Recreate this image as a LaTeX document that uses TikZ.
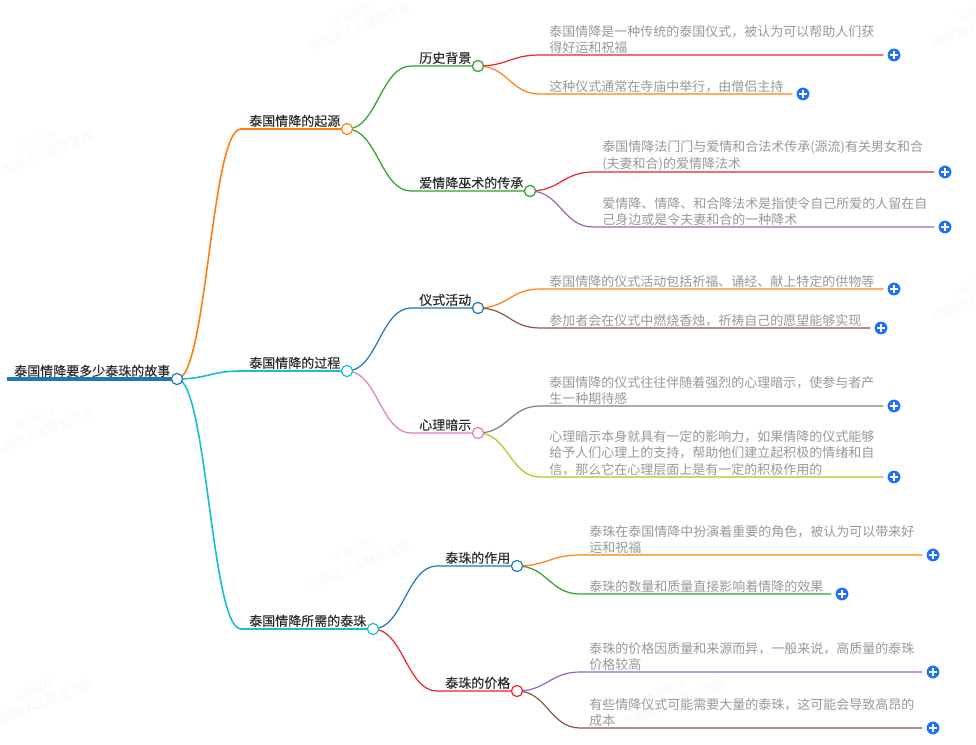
\documentclass[tikz,border=0pt]{standalone}
\usepackage{fontspec}
\setmainfont{Noto Sans CJK SC}
\newfontfamily\topicfont[FakeBold=0.25]{Noto Sans CJK SC}
\usetikzlibrary{backgrounds}
\definecolor{cOrange}{HTML}{FF7F0E}
\definecolor{cGreen}{HTML}{2CA02C}
\definecolor{cRed}{HTML}{E8262A}
\definecolor{cPurple}{HTML}{9467BD}
\definecolor{cBlue}{HTML}{1F77B4}
\definecolor{cCyan}{HTML}{17BECF}
\definecolor{cPink}{HTML}{E377C2}
\definecolor{cBrown}{HTML}{8C564B}
\definecolor{cGrey}{HTML}{7F7F7F}
\definecolor{cOlive}{HTML}{BCBD22}
\definecolor{cPlus}{HTML}{1F6FFF}
\definecolor{cLeaf}{HTML}{999999}
\definecolor{cTopic}{HTML}{2B2B2B}
\definecolor{cMark}{HTML}{F8F8F8}
\def\edgewidth{0.9pt}
\tikzset{
  x=0.75pt,y=-0.75pt,
  dot/.style={circle,draw=#1,fill=white,line width=0.9pt,minimum size=8.4pt,inner sep=0pt},
  edgeline/.style={draw=#1,line width=\edgewidth,line cap=round},
  plusnode/.style={circle,fill=cPlus,minimum size=9.6pt,inner sep=0pt,
    path picture={\draw[white,line width=1pt]
      ([xshift=-2.8pt]path picture bounding box.center) -- ([xshift=2.8pt]path picture bounding box.center)
      ([yshift=-2.8pt]path picture bounding box.center) -- ([yshift=2.8pt]path picture bounding box.center);}},
  leaftext/.style={anchor=south west,inner sep=0pt,align=left,text=cLeaf,font=\fontsize{9.75}{12.4}\selectfont},
  topictext/.style={anchor=base west,inner sep=0pt,text=cTopic,font=\fontsize{9.75}{12}\topicfont},
  marktext/.style={text=cMark,rotate=22,align=center,inner sep=0pt,font=\fontsize{9}{12}\selectfont},
}
% topic: name, x of text, x of circle, y, colour, parent, curve end x, text
\newcommand{\topicnode}[8]{%
  \node[dot=#5] (#1) at (#3,#4) {};
  \node[topictext] (#1t) at (#2,#4-3.2) {#8};
  \coordinate (#1s) at (#7,#4);
  \begin{pgfonlayer}{background}
  \draw[edgeline=#5] (#6.center) .. controls ++(30,0) and ([xshift=-22.5pt]#1s) .. (#1s) -- (#1.center);
  \end{pgfonlayer}}
% leaf: name, parent, plus x, y, colour, text x, curve end x, text
\newcommand{\leafedge}[7]{%
  \node[plusnode] (#1) at (#3,#4) {};
  \coordinate (#1s) at (#6,#4);
  \coordinate (#1e) at (#3-11,#4);
  \begin{pgfonlayer}{background}
  \draw[edgeline=#5] (#2.center) .. controls ++(22.5pt,0) and ([xshift=-22.5pt]#1s) .. (#1s) -- (#1e);
  \end{pgfonlayer}
  \node[leaftext] (#1t) at (#6+9,#4-1) {#7};}
\begin{document}
\begin{tikzpicture}
\useasboundingbox (0,0) rectangle (976,745);
\begin{pgfonlayer}{background}
\fill[white] (0,0) rectangle (976,745);
\node[marktext] (w1) at (357,20) {e3607e\\内容由人工智能生成};
\node[marktext] (w2) at (981,16) {e3607e\\内容由人工智能生成};
\node[marktext] (w3) at (40,148) {e3607e\\内容由人工智能生成};
\node[marktext] (w4) at (40,425) {e3607e\\内容由人工智能生成};
\node[marktext] (w5) at (357,558) {e3607e\\内容由人工智能生成};
\node[marktext] (w6) at (39,696) {e3607e\\内容由人工智能生成};
\node[marktext] (w7) at (670,697) {e3607e\\内容由人工智能生成};
\node[marktext] (w8) at (981,290) {e3607e\\内容由人工智能生成};
\node[marktext] (w9) at (670,152) {e3607e\\内容由人工智能生成};
\end{pgfonlayer}
% root
\node[dot=cBlue] (root) at (177,379) {};
\coordinate (rootl) at (7,379);
\node[topictext] (roott) at (14,375.8) {泰国情降要多少泰珠的故事};
\begin{pgfonlayer}{background}
\draw[cBlue,line width=2.5pt] (rootl) -- (root.center);
\end{pgfonlayer}
% level 1
\def\edgewidth{1.2pt}
\topicnode{A}{249}{347}{129}{cOrange}{root}{241}{泰国情降的起源}
\topicnode{B}{249}{347}{371}{cCyan}{root}{241}{泰国情降的过程}
\topicnode{C}{249}{373}{629}{cCyan}{root}{241}{泰国情降所需的泰珠}
% level 2
\def\edgewidth{0.9pt}
\topicnode{Aa}{419}{478}{66}{cGreen}{A}{411}{历史背景}
\topicnode{Ab}{419}{530}{191}{cGreen}{A}{411}{爱情降巫术的传承}
\topicnode{Ba}{419}{478}{308}{cBlue}{B}{411}{仪式活动}
\topicnode{Bb}{419}{478}{433}{cPink}{B}{411}{心理暗示}
\topicnode{Ca}{445}{517}{566}{cBlue}{C}{437}{泰珠的作用}
\topicnode{Cb}{445}{517}{691}{cRed}{C}{437}{泰珠的价格}
% leaves
\leafedge{L1}{Aa}{894}{55}{cRed}{540}{泰国情降是一种传统的泰国仪式，被认为可以帮助人们获\\得好运和祝福}
\leafedge{L2}{Aa}{803}{94}{cOrange}{540}{这种仪式通常在寺庙中举行，由僧侣主持}
\leafedge{L3}{Ab}{945}{172}{cRed}{593}{泰国情降法门门与爱情和合法术传承(源流)有关男女和合\\(夫妻和合)的爱情降法术}
\leafedge{L4}{Ab}{945}{227}{cPurple}{593}{爱情降、情降、和合降法术是指使令自己所爱的人留在自\\己身边或是令夫妻和合的一种降术}
\leafedge{L5}{Ba}{894}{289}{cOrange}{540}{泰国情降的仪式活动包括祈福、诵经、献上特定的供物等}
\leafedge{L6}{Ba}{881}{328}{cBrown}{540}{参加者会在仪式中燃烧香烛，祈祷自己的愿望能够实现}
\leafedge{L7}{Bb}{894}{406}{cGrey}{540}{泰国情降的仪式往往伴随着强烈的心理暗示，使参与者产\\生一种期待感}
\leafedge{L8}{Bb}{894}{477}{cOlive}{540}{心理暗示本身就具有一定的影响力，如果情降的仪式能够\\给予人们心理上的支持，帮助他们建立起积极的情绪和自\\信，那么它在心理层面上是有一定的积极作用的}
\leafedge{L9}{Ca}{933}{555}{cOrange}{580}{泰珠在泰国情降中扮演着重要的角色，被认为可以带来好\\运和祝福}
\leafedge{L10}{Ca}{842}{594}{cGreen}{580}{泰珠的数量和质量直接影响着情降的效果}
\leafedge{L11}{Cb}{933}{672}{cPurple}{580}{泰珠的价格因质量和来源而异，一般来说，高质量的泰珠\\价格较高}
\leafedge{L12}{Cb}{933}{728}{cBrown}{580}{有些情降仪式可能需要大量的泰珠，这可能会导致高昂的\\成本}
\end{tikzpicture}
\end{document}
